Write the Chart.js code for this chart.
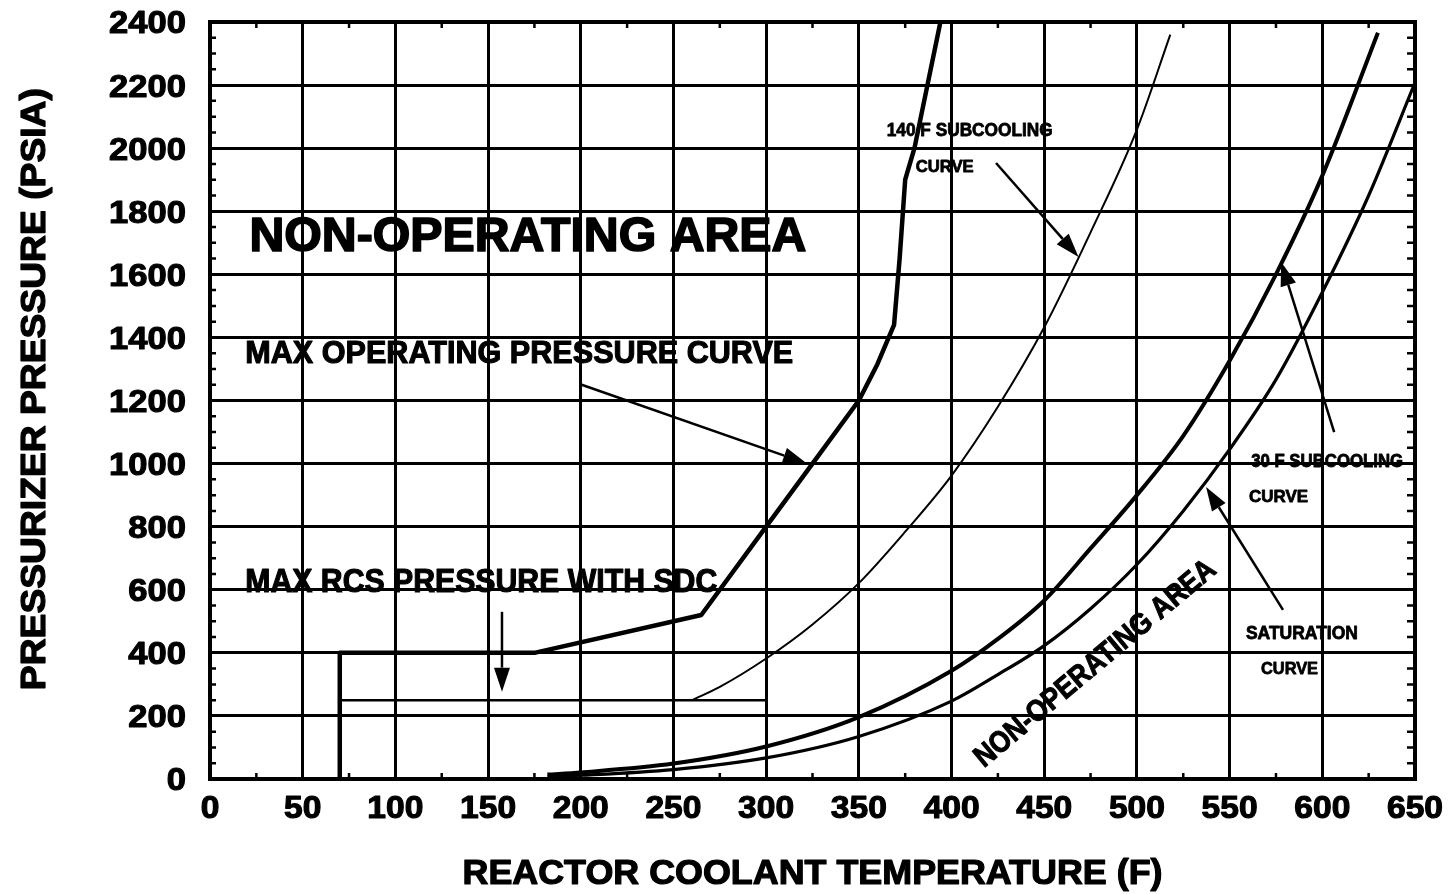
<!DOCTYPE html>
<html>
<head>
<meta charset="utf-8">
<title>Pressurizer Pressure vs Reactor Coolant Temperature</title>
<script src="https://cdn.jsdelivr.net/npm/chart.js@4.4.1/dist/chart.umd.min.js"></script>
<style>
  html, body { margin: 0; padding: 0; background: #fff; }
  #wrap { width: 1450px; height: 894px; }
  canvas { display: block; }
</style>
</head>
<body>
<div id="wrap"><canvas id="chart" width="1450" height="894"></canvas></div>
<script>
// Axis tick labels
const tempTicks = [0, 50, 100, 150, 200, 250, 300, 350, 400, 450, 500, 550, 600, 650];
const pressTicks = [0, 200, 400, 600, 800, 1000, 1200, 1400, 1600, 1800, 2000, 2200, 2400];

// Max operating pressure curve (F, psia)
const maxOpTemp  = [70, 70, 175, 265, 300, 325, 350, 360, 369, 372, 375, 380, 387, 394];
const maxOpPress = [0, 400, 400, 520, 800, 1000, 1200, 1315, 1440, 1650, 1900, 2000, 2200, 2400];

// Max RCS pressure with shutdown cooling
const sdcTemp  = [70, 300];
const sdcPress = [250, 250];

// 140 F subcooling curve
const sub140Temp  = [260, 275, 300, 325, 350, 375, 400, 425, 450, 475, 500, 518];
const sub140Press = [250, 292, 382, 490, 621, 784, 962, 1180, 1432, 1733, 2059, 2360];

// 30 F subcooling curve
const sub30Temp  = [182, 200, 250, 300, 350, 400, 425, 450, 475, 500, 525, 550, 575, 600, 630];
const sub30Press = [14, 21, 49, 103, 196, 343, 444, 566, 731, 900, 1088, 1326, 1600, 1913, 2366];

// Saturation curve
const satTemp  = [182, 200, 250, 300, 350, 400, 425, 450, 475, 500, 525, 550, 575, 600, 625, 650];
const satPress = [8, 12, 30, 67, 135, 247, 331, 423, 540, 680, 850, 1045, 1266, 1543, 1850, 2208];

const FONT = '"Liberation Sans", Arial, Helvetica, sans-serif';

// Text callouts placed in data units (temperature F, pressure psia)
const notes = [
  { text: 'NON-OPERATING AREA',           t: 171.5, p: 1731, size: 49, width: 557 },
  { text: 'MAX OPERATING PRESSURE CURVE', t: 166.8, p: 1355, size: 32, width: 548 },
  { text: 'MAX RCS PRESSURE WITH SDC',    t: 146.3, p: 631,  size: 33, width: 472 },
  { text: '140 F SUBCOOLING',             t: 409.8, p: 2058, size: 18, width: 166 },
  { text: 'CURVE',                        t: 396.3, p: 1944, size: 17, width: 58 },
  { text: '30 F SUBCOOLING',              t: 602.6, p: 1011, size: 18, width: 152 },
  { text: 'CURVE',                        t: 576.4, p: 897,  size: 17, width: 59 },
  { text: 'SATURATION',                   t: 589.0, p: 463,  size: 18, width: 112 },
  { text: 'CURVE',                        t: 582.3, p: 352,  size: 17, width: 57 },
  { text: 'NON-OPERATING AREA',           t: 476.8, p: 371,  size: 30, width: 305, angle: -40 }
];

// Leader arrows: from label toward curve (data units)
const arrows = [
  { from: [200.5, 1250], to: [322.0, 1000] },
  { from: [157.5, 530],  to: [157.5, 277] },
  { from: [424.0, 1953], to: [468.5, 1655] },
  { from: [606.4, 1100], to: [577.8, 1639] },
  { from: [578.8, 536],  to: [537.3, 926] }
];

function toPoints(xs, ys) {
  return xs.map((x, i) => ({ x: x, y: ys[i] }));
}

function drawText(ctx, str, x, y, size, opts) {
  opts = opts || {};
  ctx.save();
  ctx.translate(x, y);
  if (opts.angle) ctx.rotate(opts.angle);
  ctx.font = 'bold ' + size + 'px ' + FONT;
  const natural = ctx.measureText(str).width;
  const sx = opts.width ? opts.width / natural : (opts.stretch || 1);
  ctx.scale(sx, 1);
  ctx.textAlign = opts.align || 'center';
  ctx.textBaseline = 'alphabetic';
  const dy = size * 0.358;
  ctx.fillStyle = '#000';
  ctx.fillText(str, 0, dy);
  ctx.strokeStyle = '#000';
  ctx.lineJoin = 'round';
  ctx.lineWidth = Math.max(0.8, size * 0.035);
  ctx.strokeText(str, 0, dy);
  ctx.restore();
}

function drawArrow(ctx, x0, y0, x1, y1) {
  const ang = Math.atan2(y1 - y0, x1 - x0);
  const headLen = 24, headHalf = 8;
  const bx = x1 - headLen * Math.cos(ang);
  const by = y1 - headLen * Math.sin(ang);
  ctx.save();
  ctx.strokeStyle = '#000';
  ctx.fillStyle = '#000';
  ctx.lineWidth = 2.5;
  ctx.beginPath();
  ctx.moveTo(x0, y0);
  ctx.lineTo(bx, by);
  ctx.stroke();
  ctx.beginPath();
  ctx.moveTo(x1, y1);
  ctx.lineTo(bx + headHalf * Math.sin(ang), by - headHalf * Math.cos(ang));
  ctx.lineTo(bx - headHalf * Math.sin(ang), by + headHalf * Math.cos(ang));
  ctx.closePath();
  ctx.fill();
  ctx.restore();
}

const chartDecor = {
  id: 'chartDecor',
  beforeDatasetsDraw(chart) {
    const { ctx, chartArea: a, scales: { x, y } } = chart;
    ctx.save();
    ctx.strokeStyle = '#000';
    ctx.lineWidth = 2.5;
    // minor ticks on left/right edges every 50 psia
    for (let p = 50; p < 2400; p += 50) {
      if (p % 200 === 0) continue;
      const py = y.getPixelForValue(p);
      ctx.beginPath();
      ctx.moveTo(a.left, py); ctx.lineTo(a.left + 6, py);
      ctx.moveTo(a.right, py); ctx.lineTo(a.right - 8, py);
      ctx.stroke();
    }
    // minor ticks on top/bottom edges at the 25 F midpoints
    for (let t = 25; t < 650; t += 50) {
      const px = x.getPixelForValue(t);
      ctx.beginPath();
      ctx.moveTo(px, a.bottom); ctx.lineTo(px, a.bottom - 6);
      ctx.moveTo(px, a.top); ctx.lineTo(px, a.top + 6);
      ctx.stroke();
    }
    ctx.restore();
  },
  afterDatasetsDraw(chart) {
    const { ctx, chartArea: a, scales: { x, y } } = chart;
    // frame
    ctx.save();
    ctx.strokeStyle = '#000';
    ctx.lineWidth = 4;
    ctx.strokeRect(a.left, a.top, a.right - a.left, a.bottom - a.top);
    ctx.restore();

    // tick labels
    pressTicks.forEach(v => {
      drawText(ctx, String(v), a.left - 24, y.getPixelForValue(v), 32, { align: 'right', stretch: 1.08 });
    });
    tempTicks.forEach(v => {
      drawText(ctx, String(v), x.getPixelForValue(v), a.bottom + 28, 32, { stretch: 1.05 });
    });

    // axis titles
    drawText(ctx, 'REACTOR COOLANT TEMPERATURE (F)', (a.left + a.right) / 2, a.bottom + 92, 35, { width: 700 });
    drawText(ctx, 'PRESSURIZER PRESSURE (PSIA)', 32, y.getPixelForValue(1236), 35, { width: 602, angle: -Math.PI / 2 });

    // callouts
    notes.forEach(n => {
      drawText(ctx, n.text, x.getPixelForValue(n.t), y.getPixelForValue(n.p), n.size,
        { width: n.width, angle: n.angle ? n.angle * Math.PI / 180 : 0 });
    });

    // leader arrows
    arrows.forEach(ar => {
      drawArrow(ctx,
        x.getPixelForValue(ar.from[0]), y.getPixelForValue(ar.from[1]),
        x.getPixelForValue(ar.to[0]), y.getPixelForValue(ar.to[1]));
    });
  }
};

const lineBase = { showLine: true, pointRadius: 0, borderColor: '#000', backgroundColor: '#000', fill: false };

new Chart(document.getElementById('chart'), {
  type: 'scatter',
  data: {
    datasets: [
      Object.assign({}, lineBase, { label: 'Max operating pressure curve', data: toPoints(maxOpTemp, maxOpPress), borderWidth: 4.5, tension: 0, borderJoinStyle: 'round' }),
      Object.assign({}, lineBase, { label: 'Max RCS pressure with SDC', data: toPoints(sdcTemp, sdcPress), borderWidth: 2.5, tension: 0 }),
      Object.assign({}, lineBase, { label: '140 F subcooling curve', data: toPoints(sub140Temp, sub140Press), borderWidth: 2, cubicInterpolationMode: 'monotone' }),
      Object.assign({}, lineBase, { label: '30 F subcooling curve', data: toPoints(sub30Temp, sub30Press), borderWidth: 4, cubicInterpolationMode: 'monotone' }),
      Object.assign({}, lineBase, { label: 'Saturation curve', data: toPoints(satTemp, satPress), borderWidth: 3.2, cubicInterpolationMode: 'monotone' })
    ]
  },
  options: {
    responsive: false,
    animation: false,
    devicePixelRatio: 1,
    layout: { padding: { left: 210, top: 22, right: 35, bottom: 115 } },
    plugins: { legend: { display: false }, tooltip: { enabled: false } },
    scales: {
      x: {
        type: 'linear',
        min: tempTicks[0], max: tempTicks[tempTicks.length - 1],
        ticks: { stepSize: 50, display: false },
        grid: { color: '#000', lineWidth: 3, drawTicks: false },
        border: { color: '#000', width: 4 }
      },
      y: {
        type: 'linear',
        min: pressTicks[0], max: pressTicks[pressTicks.length - 1],
        ticks: { stepSize: 200, display: false },
        grid: { color: '#000', lineWidth: 3, drawTicks: false },
        border: { color: '#000', width: 4 }
      }
    }
  },
  plugins: [chartDecor]
});
</script>
</body>
</html>
